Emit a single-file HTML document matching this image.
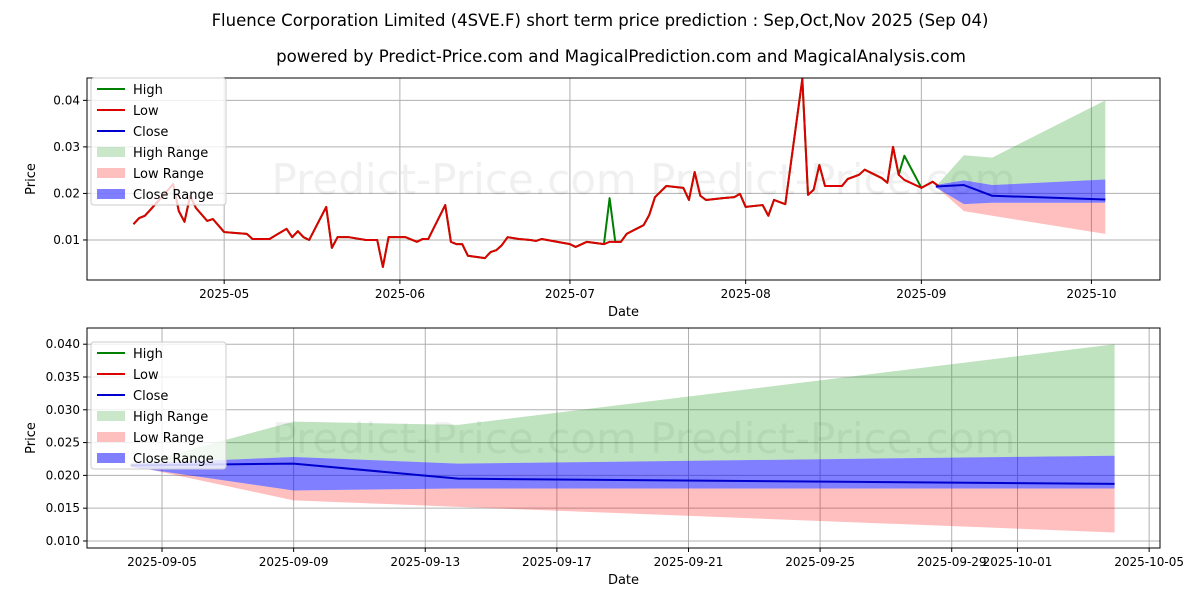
<!DOCTYPE html>
<html><head><meta charset="utf-8"><style>
body{margin:0;background:#fff;font-family:"Liberation Sans","DejaVu Sans",sans-serif}
svg text{font-family:"DejaVu Sans","Liberation Sans",sans-serif}
</style></head><body>
<svg id="c" width="1200" height="600" xmlns="http://www.w3.org/2000/svg"></svg>
<script>
// historical: day offset from 2025-05-01
const histDays=[-16,-15,-14,-13,-9,-8,-7,-6,-5,-3,-2,0,2,4,5,8,11,12,13,14,15,18,19,20,22,25,27,28,29,32,34,35,36,39,40,41,42,43,46,47,48,49,50,52,54,55,56,61,62,64,67,68,69,70,71,74,75,76,78,81,82,83,84,85,88,90,91,92,95,96,97,99,102,103,104,105,106,109,110,112,113,116,117,118,119,120,123,125,126];
const lowVals=[0.0134,0.0147,0.0152,0.0165,0.022,0.0162,0.0139,0.0195,0.0169,0.0141,0.0145,0.0117,0.0115,0.0113,0.0102,0.0102,0.0124,0.0106,0.0119,0.0106,0.01,0.0171,0.0083,0.0106,0.0106,0.01,0.01,0.0042,0.0106,0.0106,0.0096,0.0102,0.0102,0.0175,0.0096,0.0091,0.0091,0.0066,0.0061,0.0074,0.0078,0.0089,0.0106,0.0102,0.01,0.0098,0.0102,0.0091,0.0085,0.0096,0.0091,0.0096,0.0096,0.0096,0.0113,0.0132,0.0154,0.0192,0.0216,0.0212,0.0186,0.0246,0.0195,0.0186,0.019,0.0192,0.0199,0.0171,0.0175,0.0152,0.0186,0.0177,0.0446,0.0197,0.0208,0.0261,0.0216,0.0216,0.0231,0.024,0.0251,0.0233,0.0223,0.03,0.024,0.0229,0.0212,0.0225,0.0216];
const highVals=lowVals.slice();
highVals[histDays.indexOf(68)]=0.019;
highVals[histDays.indexOf(120)]=0.0281;
// forecast: day offset from 2025-09-05
const fcDays=[-0.95,4,9,28.95];
const fcHigh=[0.0215,0.0282,0.0277,0.040];
const fcLow=[0.0215,0.0162,0.0152,0.0113];
const fcCloseHi=[0.0218,0.0228,0.0218,0.0230];
const fcCloseLo=[0.0213,0.0177,0.0180,0.0180];
const fcClose=[0.0215,0.0218,0.0195,0.0187];
const topXTicks=["2025-05","2025-06","2025-07","2025-08","2025-09","2025-10"];
const topXTickDays=[0,31,61,92,123,153];
const topYTicks=[0.01,0.02,0.03,0.04];
const botXTicks=["2025-09-05","2025-09-09","2025-09-13","2025-09-17","2025-09-21","2025-09-25","2025-09-29","2025-10-01","2025-10-05"];
const botXTickDays=[0,4,8,12,16,20,24,26,30];
const botYTicks=[0.010,0.015,0.020,0.025,0.030,0.035,0.040];

const svg=document.getElementById('c');const NS="http://www.w3.org/2000/svg";
function el(t,a,txt){const e=document.createElementNS(NS,t);for(const k in a)e.setAttribute(k,a[k]);if(txt!==undefined)e.textContent=txt;svg.appendChild(e);return e;}
function mk(L,R,T,B,d0,d1,v0,v1){return{L,R,T,B,x:d=>L+(d-d0)/(d1-d0)*(R-L),y:v=>B-(v-v0)/(v1-v0)*(B-T)};}
const A=mk(87,1160,78,280,-24.2,165.1,0.0014,0.0448);
const Bx=mk(87,1160,328,548,-2.28,30.33,0.00893,0.04247);

let t=el('text',{x:600,y:26,'text-anchor':'middle','font-size':16.5,fill:'#000'},'Fluence Corporation Limited (4SVE.F) short term price prediction : Sep,Oct,Nov 2025 (Sep 04)');

t=el('text',{x:621,y:62,'text-anchor':'middle','font-size':16.6,fill:'#000'},'powered by Predict-Price.com and MagicalPrediction.com and MagicalAnalysis.com');


function band(ax,days,hi,lo,col,op,name){
  let p=days.map((d,i)=>ax.x(d)+','+ax.y(hi[i])).concat(days.map((d,i)=>ax.x(d)+','+ax.y(lo[i])).reverse());
  const e=el('polygon',{points:p.join(' '),fill:col,'fill-opacity':op});
  }
function line(ax,days,vals,col,w,name){
  const e=el('polyline',{points:days.map((d,i)=>ax.x(d)+','+ax.y(vals[i])).join(' '),fill:'none',stroke:col,'stroke-width':w,'stroke-linejoin':'round'});
  }

function panel(ax,xt,xtd,yt,yfmt,fcoff,hist,pname){
  const f=el('rect',{x:ax.L,y:ax.T,width:ax.R-ax.L,height:ax.B-ax.T,fill:'#fff',stroke:'none'});
  
  xtd.forEach((d,i)=>{const x=ax.x(d);
    const g=el('line',{x1:x,x2:x,y1:ax.T,y2:ax.B,stroke:'#b0b0b0','stroke-width':1});
    el('line',{x1:x,x2:x,y1:ax.B,y2:ax.B+4,stroke:'#000'});
    const tx=el('text',{x:x,y:ax.B+18,'text-anchor':'middle','font-size':12},xt[i]);});
  yt.forEach(v=>{const y=ax.y(v);
    const g=el('line',{x1:ax.L,x2:ax.R,y1:y,y2:y,stroke:'#b0b0b0','stroke-width':1});
    el('line',{x1:ax.L-4,x2:ax.L,y1:y,y2:y,stroke:'#000'});
    const tx=el('text',{x:ax.L-7,y:y+4,'text-anchor':'end','font-size':12},v.toFixed(yfmt));});
  const wm=el('text',{x:(ax.L+ax.R)/2+20,y:(ax.T+ax.B)/2+15,'text-anchor':'middle','font-size':42,fill:'#000','fill-opacity':0.06},'Predict-Price.com        Predict-Price.com');
  
  const fd=fcDays.map(d=>d+fcoff);
  band(ax,fd,fcHigh,fcCloseHi,'#2ca02c',0.3,pname+'-high-range');
  band(ax,fd,fcCloseLo,fcLow,'#ff0000',0.25,pname+'-low-range');
  band(ax,fd,fcCloseHi,fcCloseLo,'#0000ff',0.5,pname+'-close-range');
  if(hist){line(ax,histDays,highVals,'#008000',2,pname+'-high-line');line(ax,histDays,lowVals,'#dd0000',2,pname+'-low-line');}
  line(ax,fd,fcClose,'#0000cc',2,pname+'-close-line');
  const fr=el('rect',{x:ax.L,y:ax.T,width:ax.R-ax.L,height:ax.B-ax.T,fill:'none',stroke:'#000','stroke-width':1});
  
  let xl=el('text',{x:(ax.L+ax.R)/2,y:ax.B+36,'text-anchor':'middle','font-size':13},'Date');
  let yl=el('text',{x:0,y:0,'text-anchor':'middle','font-size':13,transform:`translate(${ax.L-52},${(ax.T+ax.B)/2}) rotate(-90)`},'Price');
  const lx=ax.L+4,ly=ax.T+(hist?0:14);
  const lg=el('rect',{x:lx,y:ly,width:135,height:127,rx:3,fill:'#fff','fill-opacity':0.8,stroke:'#ccc'});
  
  const items=[['High','#008000','l'],['Low','#dd0000','l'],['Close','#0000cc','l'],['High Range','#2ca02c40','r'],['Low Range','#ff000040','r'],['Close Range','#0000ff80','r']];
  items.forEach((it,i)=>{const yy=ly+11+i*21;
    if(it[2]=='l')el('line',{x1:lx+6,x2:lx+34,y1:yy,y2:yy,stroke:it[1],'stroke-width':2});
    else el('rect',{x:lx+6,y:yy-5,width:28,height:10,fill:it[1].slice(0,7),'fill-opacity':parseInt(it[1].slice(7),16)/255});
    const tx=el('text',{x:lx+42,y:yy+5,'font-size':13},it[0]);});
}
panel(A,topXTicks,topXTickDays,topYTicks,2,126.5,true,'top');
panel(Bx,botXTicks,botXTickDays,botYTicks,3,0,false,'bottom');
</script>
</body></html>
